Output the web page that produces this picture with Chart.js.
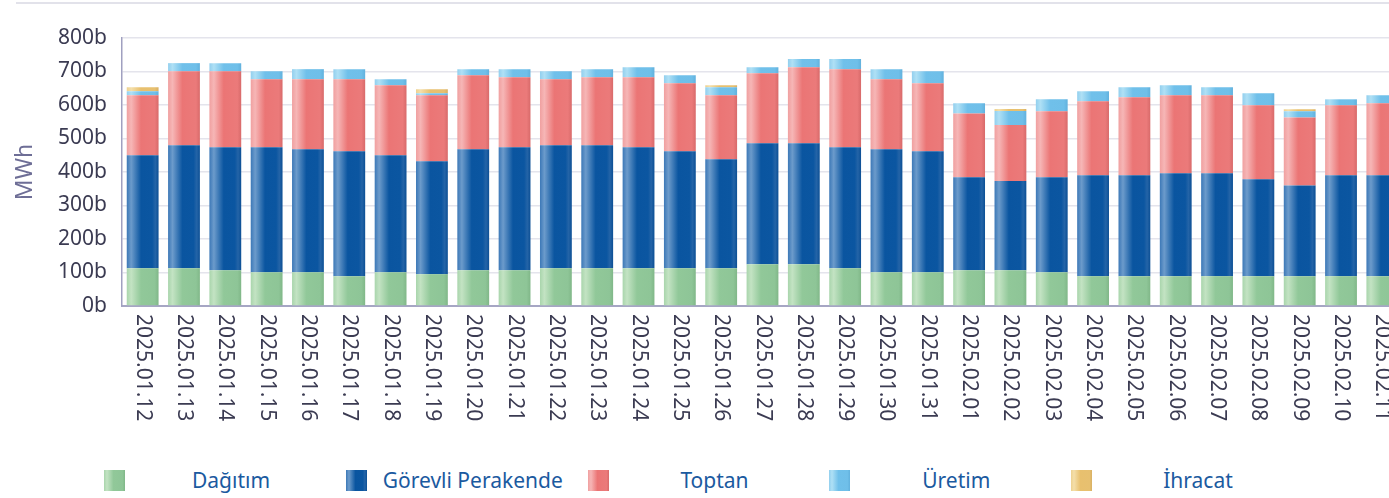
<!DOCTYPE html>
<html>
<head>
<meta charset="utf-8">
<script src="https://cdn.jsdelivr.net/npm/chart.js@4/dist/chart.umd.min.js"></script>
<style>
  html, body { margin:0; padding:0; background:#fff; overflow:hidden; width:1389px; height:498px; }
  #wrap { position:relative; width:1403px; height:498px; }
  #topline { position:absolute; left:16px; top:2px; width:1390px; height:2px; background:#e2e2ea; }
  #c { position:absolute; left:0; top:0; }
  #legend { position:absolute; left:104px; top:470px; display:flex; font-family:"Noto Sans", sans-serif; font-size:21px; color:#1b5a9f; }
  .item { width:241.75px; display:flex; align-items:center; height:21px; }
  .box { width:21px; height:21px; flex:none; }
  .lab { width:212px; text-align:center; white-space:nowrap; line-height:21px; }
</style>
</head>
<body>
<div id="wrap">
  <div id="topline"></div>
  <canvas id="c" width="1403" height="460" style="width:1403px;height:460px"></canvas>
  <div id="legend"></div>
</div>
<script>
const categories = ["2025.01.12","2025.01.13","2025.01.14","2025.01.15","2025.01.16","2025.01.17","2025.01.18","2025.01.19","2025.01.20","2025.01.21","2025.01.22","2025.01.23","2025.01.24","2025.01.25","2025.01.26","2025.01.27","2025.01.28","2025.01.29","2025.01.30","2025.01.31","2025.02.01","2025.02.02","2025.02.03","2025.02.04","2025.02.05","2025.02.06","2025.02.07","2025.02.08","2025.02.09","2025.02.10","2025.02.11"];
const seriesNames = ["Dağıtım","Görevli Perakende","Toptan","Üretim","İhracat"];
const dagitim  = [113,113,107,101,101,89,101,95,107,107,113,113,113,113,113,125,125,113,101,101,107,107,101,89,89,89,89,89,89,89,89];
const gorevli  = [337,367,367,373,367,373,349,337,361,367,367,367,361,349,325,361,361,361,367,361,277,266,283,301,301,307,307,289,271,301,301];
const toptan   = [179,221,227,203,209,215,209,197,221,209,197,203,209,203,191,209,227,233,209,203,191,167,197,221,233,233,233,221,203,209,215];
const uretim   = [12,24,24,24,30,30,18,6,18,24,24,24,30,24,24,18,24,30,30,36,30,42,36,30,30,30,24,36,18,18,24];
const ihracat  = [12,0,0,0,0,0,0,12,0,0,0,0,0,0,6,0,0,0,0,0,0,6,0,0,0,0,0,0,6,0,0];
const yTicks = [0,100,200,300,400,500,600,700,800];
const unitSuffix = "b";

const palettes = [
  [[0,'#a9d5ac'],[0.14,'#c3e3c3'],[0.45,'#91c899'],[0.88,'#8ec597'],[1,'#80b788']],
  [[0,'#3c78b7'],[0.14,'#6c9bcb'],[0.45,'#0a55a0'],[0.8,'#0b56a1'],[0.9,'#2464a7'],[1,'#0b4f95']],
  [[0,'#f0a0a0'],[0.14,'#f6b6b6'],[0.45,'#eb7575'],[0.88,'#eb7a7a'],[1,'#d86a6a']],
  [[0,'#92cfee'],[0.14,'#afe0f5'],[0.45,'#70c0ea'],[0.88,'#6fbfe9'],[1,'#62b1dd']],
  [[0,'#edd190'],[0.14,'#f4dfaa'],[0.45,'#e8c06e'],[0.88,'#e7c070'],[1,'#d8b064']]
];
const barPct = 0.77;

function gradFill(idx){
  const stops = palettes[idx];
  return (ctx) => {
    const chart = ctx.chart;
    const xs = chart.scales && chart.scales.x;
    if (!xs || ctx.dataIndex === undefined || !xs.width) return stops[2][1];
    const cx = xs.getPixelForValue(ctx.dataIndex);
    const w = xs.width / categories.length * barPct;
    const g = chart.ctx.createLinearGradient(cx - w/2, 0, cx + w/2, 0);
    stops.forEach(s => g.addColorStop(s[0], s[1]));
    return g;
  };
}

const seriesData = [dagitim, gorevli, toptan, uretim, ihracat];
const datasets = seriesNames.map((n,i) => ({
  label: n,
  data: seriesData[i],
  backgroundColor: gradFill(i),
  borderWidth: 0,
  stack: 's',
  categoryPercentage: 1,
  barPercentage: barPct
}));

const xLabelPlugin = {
  id: 'xLabels',
  afterDraw(chart){
    const xs = chart.scales.x;
    const c = chart.ctx;
    c.save();
    c.font = '21px "Noto Sans"';
    c.fillStyle = '#3b3b52';
    c.textAlign = 'left';
    c.textBaseline = 'middle';
    categories.forEach((l,i) => {
      const x = xs.getPixelForValue(i);
      c.save();
      c.translate(x, xs.top + 8);
      c.rotate(Math.PI/2);
      c.fillText(l, 0, 0);
      c.restore();
    });
    c.restore();
  }
};

new Chart(document.getElementById('c'), {
  type: 'bar',
  data: { labels: categories, datasets },
  options: {
    responsive: false,
    animation: false,
    layout: { padding: { top: 38, left: 0, right: 0, bottom: 0 } },
    plugins: { legend: { display: false }, tooltip: { enabled: false } },
    scales: {
      x: {
        stacked: true,
        grid: { display: false, drawTicks: false },
        border: { display: true, color: '#a6a6c4', width: 2 },
        ticks: { display: false },
        afterFit(s){ s.height = 154; }
      },
      y: {
        stacked: true,
        min: 0, max: 800,
        afterBuildTicks(s){ s.ticks = yTicks.map(v => ({ value: v })); },
        grid: { color: '#e4e4ec', lineWidth: 1.5, drawTicks: false },
        border: { display: true, color: '#a0a0c0', width: 1.5 },
        ticks: {
          padding: 15,
          color: '#3b3b52',
          font: { family: 'Noto Sans', size: 21 },
          callback: v => v + unitSuffix
        },
        title: {
          display: true,
          text: 'MWh',
          color: '#6e6e96',
          font: { family: 'Noto Sans', size: 23 },
          padding: { top: 12, bottom: 0 }
        },
        afterFit(s){ s.width = 122; }
      }
    }
  },
  plugins: [xLabelPlugin]
});

const legend = document.getElementById('legend');
seriesNames.forEach((n,i) => {
  const item = document.createElement('div');
  item.className = 'item';
  const box = document.createElement('div');
  box.className = 'box';
  box.style.background = 'linear-gradient(to right,' + palettes[i].map(s => s[1] + ' ' + (s[0]*100) + '%').join(',') + ')';
  const lab = document.createElement('span');
  lab.className = 'lab';
  lab.textContent = n;
  item.appendChild(box);
  item.appendChild(lab);
  legend.appendChild(item);
});
</script>
</body>
</html>
